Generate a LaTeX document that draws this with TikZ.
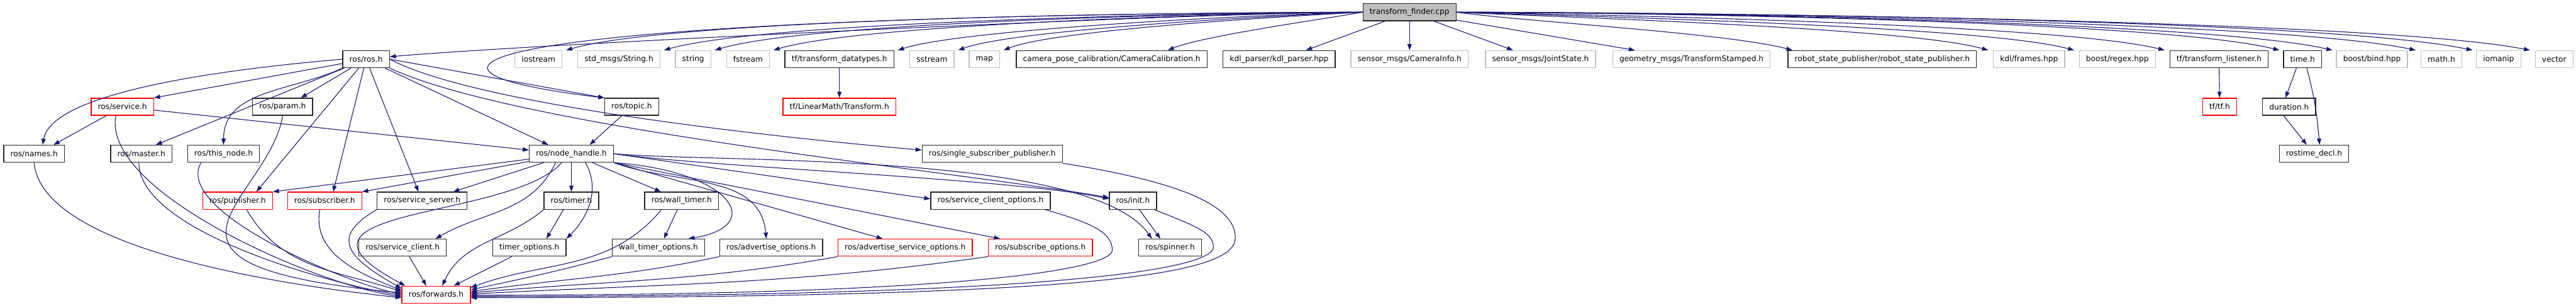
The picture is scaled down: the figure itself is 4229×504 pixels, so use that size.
\documentclass[tikz,border=0pt]{standalone}
\usepackage{fontspec}
\setmainfont{DejaVu Sans}
\usetikzlibrary{arrows.meta}
\definecolor{edgeblue}{HTML}{191970}
\definecolor{extgray}{HTML}{BFBFBF}
\tikzset{
  file/.style={draw=black!85, line width=0.33pt, fill=white, minimum height=7pt,
    inner xsep=2.75pt, inner ysep=0.1pt, font=\fontsize{3.15}{3.8}\selectfont},
  extfile/.style={file, draw=extgray},
  cutfile/.style={file, draw=red},
  rootfile/.style={file, fill=extgray},
  incl/.style={draw=edgeblue, line width=0.28pt, -{Triangle[length=2.5pt,width=1.75pt]}}
}
\begin{document}
\begin{tikzpicture}[x=0.25pt,y=-0.25pt]
\useasboundingbox (0,0) rectangle (4229,504);
% row 0
\node[rootfile] (root) at (2314,20) {transform\_finder.cpp};
% row 1
\node[file] (rosh) at (601,97) {ros/ros.h};
\node[extfile] (iostream) at (884,97) {iostream};
\node[extfile] (stdstring) at (1016,97) {std\_msgs/String.h};
\node[extfile] (string) at (1138,97) {string};
\node[extfile] (fstream) at (1228,97) {fstream};
\node[file] (tfdatatypes) at (1378,97) {tf/transform\_datatypes.h};
\node[extfile] (sstream) at (1530,97) {sstream};
\node[extfile] (map) at (1616,97) {map};
\node[file] (camcalib) at (1825,97) {camera\_pose\_calibration/CameraCalibration.h};
\node[file] (kdlparser) at (2100,97) {kdl\_parser/kdl\_parser.hpp};
\node[extfile] (camerainfo) at (2314,97) {sensor\_msgs/CameraInfo.h};
\node[extfile] (jointstate) at (2529,97) {sensor\_msgs/JointState.h};
\node[extfile] (tfstamped) at (2777,97) {geometry\_msgs/TransformStamped.h};
\node[file] (rsp) at (3090,97) {robot\_state\_publisher/robot\_state\_publisher.h};
\node[extfile] (kdlframes) at (3331,97) {kdl/frames.hpp};
\node[extfile] (regex) at (3476,97) {boost/regex.hpp};
\node[file] (tflistener) at (3643,97) {tf/transform\_listener.h};
\node[file] (timeh) at (3780,97) {time.h};
\node[extfile] (bind) at (3894,97) {boost/bind.hpp};
\node[extfile] (mathh) at (4008,97) {math.h};
\node[extfile] (iomanip) at (4102,97) {iomanip};
\node[extfile] (vector) at (4193,97) {vector};
% row 2
\node[cutfile] (service) at (201,175) {ros/service.h};
\node[file] (param) at (464,175) {ros/param.h};
\node[file] (topic) at (1037,175) {ros/topic.h};
\node[cutfile] (lmtransform) at (1378,175) {tf/LinearMath/Transform.h};
\node[cutfile] (tftf) at (3644,175) {tf/tf.h};
\node[file] (duration) at (3758,175) {duration.h};
% row 3
\node[file] (names) at (56,252) {ros/names.h};
\node[file] (master) at (232,252) {ros/master.h};
\node[file] (thisnode) at (367,252) {ros/this\_node.h};
\node[file] (nodehandle) at (938,252) {ros/node\_handle.h};
\node[file] (ssp) at (1629,252) {ros/single\_subscriber\_publisher.h};
\node[file] (rostimedecl) at (3799,252) {rostime\_decl.h};
% row 4
\node[cutfile] (publisher) at (390,329) {ros/publisher.h};
\node[cutfile] (subscriber) at (533,329) {ros/subscriber.h};
\node[file] (srvserver) at (693,329) {ros/service\_server.h};
\node[file] (timer) at (938,329) {ros/timer.h};
\node[file] (walltimer) at (1119,329) {ros/wall\_timer.h};
\node[file] (srvclientopts) at (1626,329) {ros/service\_client\_options.h};
\node[file] (init) at (1860,329) {ros/init.h};
% row 5
\node[file] (srvclient) at (661,406) {ros/service\_client.h};
\node[file] (timeropts) at (869,406) {timer\_options.h};
\node[file] (walltimeropts) at (1081,406) {wall\_timer\_options.h};
\node[file] (advopts) at (1266,406) {ros/advertise\_options.h};
\node[cutfile] (advsrvopts) at (1486,406) {ros/advertise\_service\_options.h};
\node[cutfile] (subopts) at (1708,406) {ros/subscribe\_options.h};
\node[file] (spinner) at (1921,406) {ros/spinner.h};
% row 6
\node[cutfile] (forwards) at (716,483) {ros/forwards.h};

% includes of transform_finder.cpp
\draw[incl] (root.west) to[out=180,in=5,looseness=0.4] ([yshift=1pt]rosh.east);
\draw[incl] (root.west) to[out=180,in=16,looseness=0.4] ([xshift=1.5pt]iostream.north east);
\draw[incl] (root.west) to[out=180,in=16,looseness=0.4] ([xshift=1.5pt]stdstring.north east);
\draw[incl] (root.west) to[out=180,in=17,looseness=0.4] ([xshift=1.5pt]string.north east);
\draw[incl] (root.west) to[out=180,in=17,looseness=0.4] ([xshift=1.5pt]fstream.north east);
\draw[incl] (root.west) to[out=181,in=18,looseness=0.4] ([xshift=1.5pt]tfdatatypes.north east);
\draw[incl] (root.west) to[out=182,in=20,looseness=0.4] ([xshift=1.5pt]sstream.north east);
\draw[incl] (root.west) to[out=183,in=22,looseness=0.4] ([xshift=1.5pt]map.north east);
\draw[incl] (root.west) to[out=190,in=22,looseness=0.5] ([xshift=-16.25pt]camcalib.north east);
\draw[incl] (root.west) .. controls +(-1437,5) and +(-420,-50) .. (topic.north west);
\draw[incl] (root) -- ([xshift=11pt]kdlparser.north);
\draw[incl] (root) -- (camerainfo);
\draw[incl] (root) -- ([xshift=-11.25pt]jointstate.north);
\draw[incl] (root) -- ([xshift=-23.25pt]tfstamped.north);
\draw[incl] (root.east) to[out=-8,in=165,looseness=0.5] ([xshift=2pt]rsp.north west);
\draw[incl] (root.east) to[out=-3,in=164,looseness=0.4] ([xshift=-2pt]kdlframes.north west);
\draw[incl] (root.east) to[out=-2,in=165,looseness=0.4] ([xshift=-2pt]regex.north west);
\draw[incl] (root.east) to[out=-1,in=166,looseness=0.4] ([xshift=-2pt]tflistener.north west);
\draw[incl] (root.east) to[out=0,in=166,looseness=0.4] ([xshift=-1.5pt]timeh.north west);
\draw[incl] (root.east) to[out=0,in=167,looseness=0.4] ([xshift=-1.5pt]bind.north west);
\draw[incl] (root.east) to[out=0,in=168,looseness=0.4] ([xshift=-2pt]mathh.north west);
\draw[incl] (root.east) to[out=0,in=168,looseness=0.4] ([xshift=-1.5pt]iomanip.north west);
\draw[incl] (root.east) to[out=0,in=169,looseness=0.4] ([xshift=-2pt]vector.north west);

% tf and time
\draw[incl] (tfdatatypes) -- (lmtransform);
\draw[incl] (tflistener) -- (tftf);
\draw[incl] ([xshift=-2.5pt]timeh.south) -- ([xshift=-1.5pt]duration.north);
\draw[incl] ([xshift=1.75pt]timeh.south) to[out=-75,in=95] ([xshift=2.25pt]rostimedecl.north);
\draw[incl] ([xshift=-2.25pt]duration.south) -- ([xshift=-3pt]rostimedecl.north);

% includes of ros/ros.h
\draw[incl] (rosh.west) to[out=185,in=80,looseness=0.5] ([xshift=3.5pt]names.north);
\draw[incl] (rosh) -- (service.north east);
\draw[incl] (rosh) -- ([xshift=6pt]master.north);
\draw[incl] (rosh.south west) to[out=205,in=90] (thisnode.north);
\draw[incl] (rosh) -- ([xshift=7.5pt]param.north);
\draw[incl] (rosh) -- ([xshift=7.75pt]publisher.north);
\draw[incl] (rosh) -- ([xshift=3.5pt]subscriber.north);
\draw[incl] (rosh) -- ([xshift=-1.5pt]srvserver.north);
\draw[incl] (rosh) -- ([xshift=-9.5pt]nodehandle.north);
\draw[incl] (rosh.east) -- (topic.north west);
\draw[incl] (rosh.east) to[out=-28,in=175,looseness=0.5] ([yshift=1.5pt]ssp.west);
\draw[incl] (rosh.south east) to[out=-25,in=170,looseness=0.5] ([yshift=1.25pt]init.west);

% ros/service.h and ros/topic.h
\draw[incl] (service) -- ([xshift=8pt]names.north);
\draw[incl] (service) -- ([yshift=1.5pt]nodehandle.west);
\draw[incl] (topic) -- ([xshift=7.5pt]nodehandle.north);

% includes of ros/node_handle.h
\draw[incl] (nodehandle) -- (publisher.north east);
\draw[incl] (nodehandle) -- (subscriber.north east);
\draw[incl] (nodehandle) -- ([xshift=12.75pt]srvserver.north);
\draw[incl] ([xshift=-6.5pt]nodehandle.south) to[out=-115,in=30] ([xshift=13.5pt]srvclient.north);
\draw[incl] (nodehandle) -- (timer);
\draw[incl] ([xshift=5.75pt]nodehandle.south) to[out=-60,in=45] (timeropts.north east);
\draw[incl] (nodehandle) -- ([xshift=-8.5pt]walltimer.north);
\draw[incl] (nodehandle.south east) .. controls (1200,280) and (1260,370) .. ([xshift=12.25pt]walltimeropts.north);
\draw[incl] (nodehandle.south east) to[out=-20,in=95] ([xshift=-2pt]advopts.north);
\draw[incl] (nodehandle.south east) -- ([xshift=-9.25pt]advsrvopts.north);
\draw[incl] (nodehandle.south east) -- ([xshift=-16.5pt]subopts.north);
\draw[incl] (nodehandle.east) -- ([yshift=0.75pt]srvclientopts.west);
\draw[incl] (nodehandle.east) to[out=-8,in=168,looseness=0.5] ([yshift=0.75pt]init.west);
\draw[incl] (nodehandle.east) to[out=-5,in=125,looseness=0.5] ([xshift=-7.5pt]spinner.north);
\draw[incl] ([xshift=-4pt]nodehandle.south) .. controls +(-82,94) and +(-242,-129) .. ([xshift=1.5pt]forwards.north west);

% timers and init
\draw[incl] ([xshift=-3.25pt]timer.south) -- ([xshift=7pt]timeropts.north);
\draw[incl] ([xshift=-1.75pt]walltimer.south) -- ([xshift=2.25pt]walltimeropts.north);
\draw[incl] (init) -- ([xshift=-4pt]spinner.north);

% includes of ros/forwards.h
\draw[incl] (names.south) to[out=-85,in=174,looseness=0.6] ([yshift=-1.25pt]forwards.west);
\draw[incl] ([xshift=-2.75pt]service.south) to[out=-100,in=173,looseness=0.6] ([yshift=-0.75pt]forwards.west);
\draw[incl] ([xshift=-1pt]master.south) to[out=-90,in=171,looseness=0.6] ([yshift=-0.25pt]forwards.west);
\draw[incl] ([xshift=-9.25pt]thisnode.south) to[out=-120,in=169,looseness=0.6] ([yshift=0.25pt]forwards.west);
\draw[incl] (param.south) .. controls +(-23,141) and +(-479,-45) .. ([yshift=0.75pt]forwards.west);
\draw[incl] ([xshift=3.75pt]publisher.south) to[out=-60,in=162] ([yshift=1.25pt]forwards.west);
\draw[incl] ([xshift=-2pt]subscriber.south) to[out=-100,in=158] ([yshift=1.75pt]forwards.west);
\draw[incl] (srvserver.south west) to[out=-150,in=150,looseness=1.8] ([yshift=2.5pt]forwards.west);
\draw[incl] ([xshift=2.75pt]srvclient.south) -- ([xshift=-4pt]forwards.north);
\draw[incl] (timer.south west) to[out=-140,in=65] ([xshift=2.5pt]forwards.north);
\draw[incl] ([xshift=-7.25pt]timeropts.south) -- ([xshift=7.25pt]forwards.north);
\draw[incl] ([xshift=-8.25pt]walltimer.south) to[out=-130,in=20] ([yshift=-0.75pt]forwards.north east);
\draw[incl] (walltimeropts.south west) to[out=-165,in=12] ([yshift=2pt]forwards.east);
\draw[incl] (advopts.south west) to[out=-168,in=8] ([yshift=1.25pt]forwards.east);
\draw[incl] (advsrvopts.south west) to[out=-170,in=5] ([yshift=0.75pt]forwards.east);
\draw[incl] (subopts.south west) to[out=-172,in=3] ([yshift=0.25pt]forwards.east);
\draw[incl] ([xshift=22.5pt]srvclientopts.south) .. controls (1790,365) and (1826,380) .. (1826,410)
  .. controls (1826,440) and (1600,484) .. ([yshift=-0.25pt]forwards.east);
\draw[incl] ([xshift=-1pt]init.south east) .. controls (1960,370) and (1992,380) .. (1992,405)
  .. controls (1992,440) and (1750,486) .. ([yshift=-0.75pt]forwards.east);
\draw[incl] ([yshift=-0.25pt]ssp.south east) .. controls (1950,300) and (2028,340) .. (2028,390)
  .. controls (2028,450) and (1800,488) .. ([yshift=-1.25pt]forwards.east);
\end{tikzpicture}
\end{document}
